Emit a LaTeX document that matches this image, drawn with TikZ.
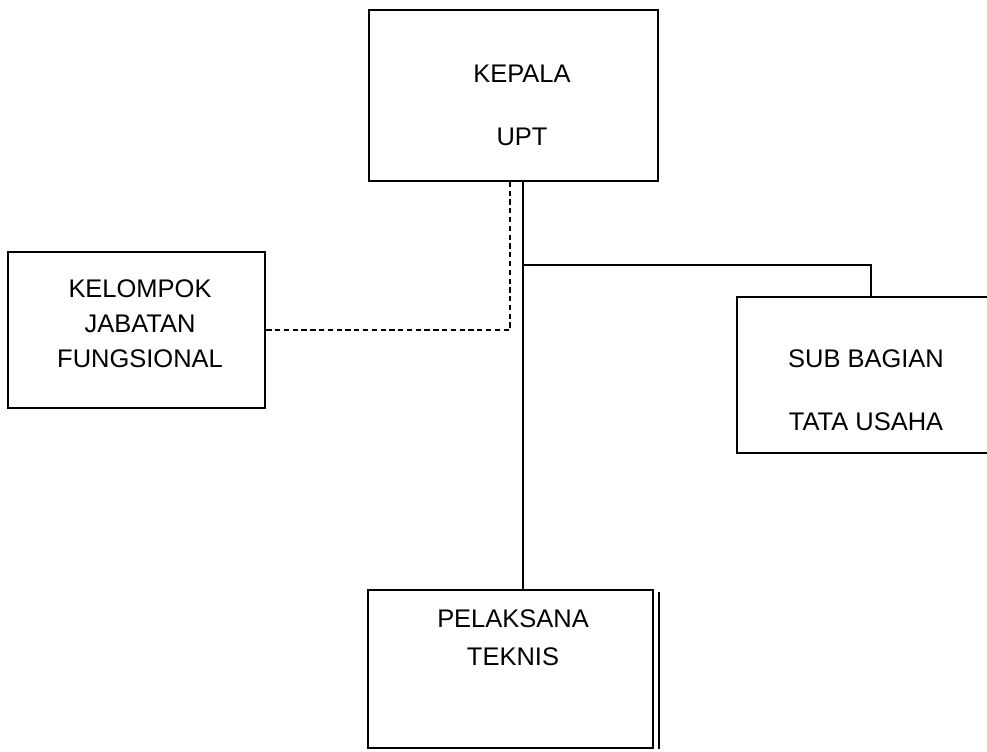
\documentclass[tikz,border=0pt]{standalone}
\usepackage{fontspec}
\setmainfont{Liberation Sans}
\usepackage{tikz}

\begin{document}
\begin{tikzpicture}[x=0.02cm, y=-0.02cm,
      unitbox/.style={rectangle, draw, line width=1pt, inner sep=0pt},
      unittext/.style={align=center, inner sep=0pt,
         font=\fontsize{14.5}{20}\selectfont}]
      \useasboundingbox (0,0) rectangle (987,751);

      \node (kepala) at (513.5,95.5) [unitbox,
         minimum width=5.78cm, minimum height=3.42cm] {};
      \node (kelompok) at (136.5,330) [unitbox,
         minimum width=5.14cm, minimum height=3.12cm] {};
      \node (subbagian) at (868.5,375) [unitbox,
         minimum width=5.26cm, minimum height=3.12cm] {};
      \node (pelaksana) at (510.5,669) [unitbox,
         minimum width=5.7cm, minimum height=3.16cm] {};

      \node (kepalatext) at (522,105) [unittext] {KEPALA\\[16pt]UPT};
      \node (kelompoktext) at (140,324) [unittext]
         {KELOMPOK\\JABATAN\\FUNGSIONAL};
      \node (subbagiantext) at (866,390) [unittext]
         {SUB BAGIAN\\[16pt]TATA USAHA};
      \node (pelaksanatext) at (513,638) [unittext]
         {PELAKSANA\\[1.5pt]TEKNIS};

      \coordinate (trunk) at (523,265);
      \coordinate (elbow) at (871,265);
      \coordinate (dotbend) at (510,330);

      \draw [line width=1pt] (kepala.south -| trunk) -- (pelaksana.north -| trunk);
      \draw [line width=1pt] (trunk) -- (elbow) -- (elbow |- subbagian.north);
      \draw [line width=1pt, dash pattern=on 3pt off 2pt]
         (kepala.south -| dotbend) -- (dotbend) -- (kelompok.east);
      \draw [line width=1pt] ([xshift=0.1cm, yshift=-0.06cm]pelaksana.north east)
         -- ([xshift=0.1cm]pelaksana.south east);
   \end{tikzpicture}
\end{document}
